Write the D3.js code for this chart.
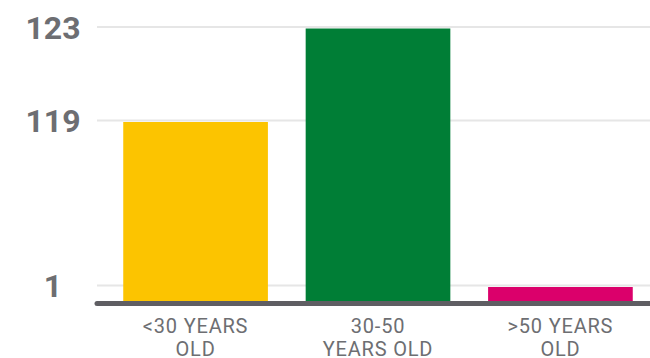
<!DOCTYPE html>
<html>
<head>
<meta charset="utf-8">
<script src="https://cdn.jsdelivr.net/npm/d3@7"></script>
<style>
  html, body { margin: 0; padding: 0; background: #fff; }
  svg { display: block; font-family: Roboto, "Noto Sans", sans-serif; }
</style>
</head>
<body>
<svg id="chart" width="650" height="358"></svg>
<script>
// Employees by age group
const categories = ["<30 YEARS OLD", "30-50 YEARS OLD", ">50 YEARS OLD"];
const labelLines = [["<30 YEARS", "OLD"], ["30-50", "YEARS OLD"], [">50 YEARS", "OLD"]];
const values = [119, 123, 1];
const colors = ["#FCC400", "#007E36", "#DB006B"];
const tickValues = [1, 119, 123];

const svg = d3.select("#chart");
const width = 650, height = 358;
const baseY = 301;

const x = d3.scaleBand()
  .domain(categories)
  .range([105, 651])
  .paddingInner(0.207)
  .paddingOuter(0.1);

// Broken value axis: each labelled value gets its own band of the height
const y = d3.scaleLinear()
  .domain([0, 1, 119, 123])
  .range([baseY, 285.5, 120.5, 27]);

// Gridlines
svg.append("g")
  .selectAll("line")
  .data(tickValues)
  .join("line")
  .attr("x1", 97).attr("x2", width)
  .attr("y1", d => y(d)).attr("y2", d => y(d))
  .attr("stroke", "#e6e6e6")
  .attr("stroke-width", 2);

// Tick labels
svg.append("g")
  .selectAll("text")
  .data(tickValues)
  .join("text")
  .attr("x", 53)
  .attr("y", d => y(d))
  .attr("dy", "0.36em")
  .attr("text-anchor", "middle")
  .attr("font-size", 32)
  .attr("font-weight", 700)
  .attr("fill", "#6d6e72")
  .text(d => d);

// Bars
svg.append("g")
  .selectAll("rect")
  .data(values)
  .join("rect")
  .attr("x", (d, i) => x(categories[i]))
  .attr("width", x.bandwidth())
  .attr("y", d => y(d) + 1.5)
  .attr("height", d => baseY - y(d) - 1.5)
  .attr("fill", (d, i) => colors[i]);

// Baseline
svg.append("line")
  .attr("x1", 97).attr("x2", width + 5)
  .attr("y1", baseY + 2.5).attr("y2", baseY + 2.5)
  .attr("stroke", "#5f5e63")
  .attr("stroke-width", 5)
  .attr("stroke-linecap", "round");

// Category labels, two lines each, centred under the bars
const lab = svg.append("g")
  .selectAll("text")
  .data(categories)
  .join("text")
  .attr("x", d => x(d) + x.bandwidth() / 2)
  .attr("y", 333)
  .attr("text-anchor", "middle")
  .attr("font-size", 20)
  .attr("letter-spacing", 0.8)
  .attr("fill", "#6d6e72");
lab.selectAll("tspan")
  .data((d, i) => labelLines[i])
  .join("tspan")
  .attr("x", function() { return this.parentNode.getAttribute("x"); })
  .attr("dy", (d, i) => i === 0 ? 0 : 23)
  .text(d => d);
</script>
</body>
</html>
